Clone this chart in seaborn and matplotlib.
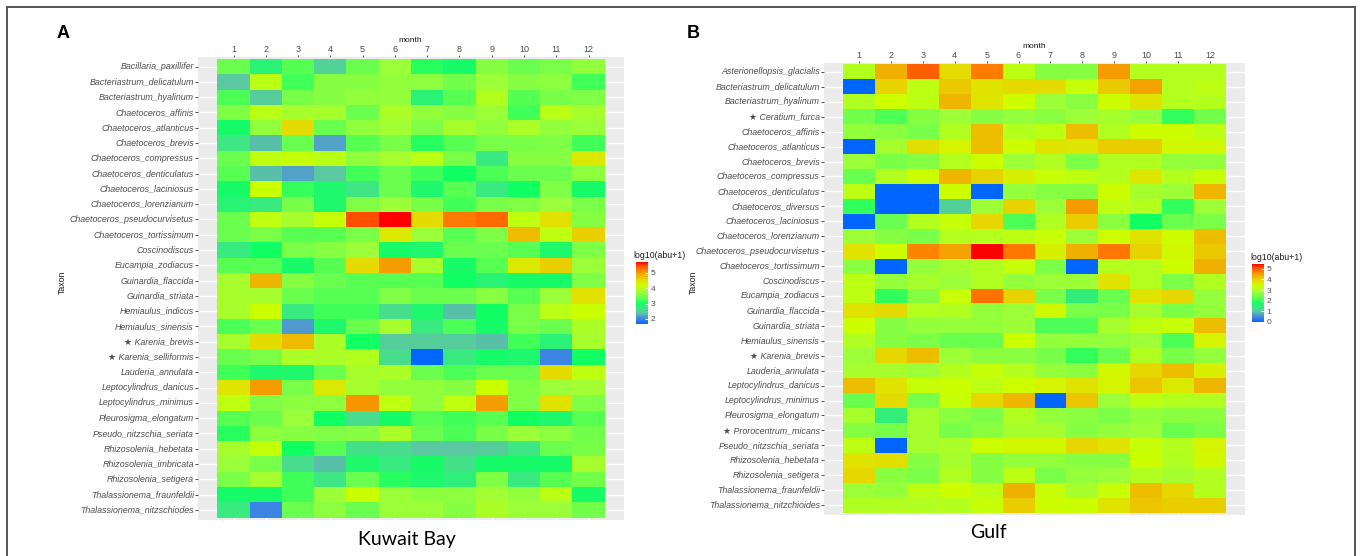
import numpy as np
import pandas as pd
import matplotlib
matplotlib.use("Agg")
import matplotlib.pyplot as plt
import seaborn as sns
from matplotlib.colors import LinearSegmentedColormap
from matplotlib.lines import Line2D

months = [str(m) for m in range(1, 13)]

kuwait_taxa = [
    "Bacillaria_paxillifer", "Bacteriastrum_delicatulum", "Bacteriastrum_hyalinum",
    "Chaetoceros_affinis", "Chaetoceros_atlanticus", "Chaetoceros_brevis",
    "Chaetoceros_compressus", "Chaetoceros_denticulatus", "Chaetoceros_laciniosus",
    "Chaetoceros_lorenzianum", "Chaetoceros_pseudocurvisetus", "Chaetoceros_tortissimum",
    "Coscinodiscus", "Eucampia_zodiacus", "Guinardia_flaccida", "Guinardia_striata",
    "Hemiaulus_indicus", "Hemiaulus_sinensis", "★ Karenia_brevis", "★ Karenia_selliformis",
    "Lauderia_annulata", "Leptocylindrus_danicus", "Leptocylindrus_minimus",
    "Pleurosigma_elongatum", "Pseudo_nitzschia_seriata", "Rhizosolenia_hebetata",
    "Rhizosolenia_imbricata", "Rhizosolenia_setigera", "Thalassionema_fraunfeldii",
    "Thalassionema_nitzschiodes",
]

# log10(abu+1), Kuwait Bay, rows = taxa, cols = months 1..12
kuwait_values = [
    [3.40, 2.85, 3.30, 2.50, 3.40, 3.75, 3.10, 2.95, 3.60, 3.40, 3.50, 3.70],
    [2.40, 4.00, 3.20, 3.60, 3.60, 3.70, 3.65, 3.45, 3.75, 3.60, 3.65, 3.20],
    [3.25, 2.45, 3.50, 3.60, 3.70, 3.70, 2.85, 3.30, 3.95, 3.30, 3.50, 3.55],
    [3.55, 4.00, 3.85, 3.85, 3.40, 3.90, 3.70, 3.60, 3.75, 3.20, 4.00, 3.85],
    [2.95, 3.70, 4.55, 3.40, 3.70, 3.80, 3.55, 3.85, 3.70, 3.90, 3.70, 3.75],
    [2.70, 2.35, 3.40, 2.20, 3.30, 3.50, 3.10, 3.30, 3.50, 3.50, 3.55, 3.20],
    [3.40, 4.05, 4.10, 4.00, 3.70, 3.85, 4.00, 3.50, 2.75, 3.60, 3.60, 4.40],
    [3.30, 2.35, 2.20, 2.40, 3.20, 3.40, 3.20, 3.00, 3.25, 3.40, 3.40, 3.65],
    [2.95, 4.15, 3.15, 2.90, 2.70, 3.40, 2.90, 3.30, 2.75, 3.00, 3.55, 2.95],
    [2.85, 2.75, 3.50, 2.90, 3.55, 3.75, 3.50, 3.20, 3.50, 3.55, 3.75, 3.50],
    [3.40, 4.05, 3.85, 4.10, 5.45, 5.70, 4.55, 5.20, 5.30, 4.05, 4.50, 3.60],
    [3.40, 3.50, 3.30, 3.30, 3.50, 4.40, 3.75, 3.30, 3.55, 4.80, 4.05, 4.65],
    [2.75, 3.00, 3.50, 3.60, 3.75, 2.95, 2.90, 3.40, 3.40, 3.30, 2.90, 3.55],
    [3.30, 3.30, 2.95, 3.30, 4.55, 5.00, 3.85, 2.95, 3.30, 4.40, 4.65, 3.75],
    [3.85, 4.85, 3.60, 3.40, 3.30, 3.30, 3.30, 3.00, 2.85, 2.95, 2.95, 3.55],
    [3.85, 3.85, 3.40, 3.30, 3.30, 3.55, 3.40, 3.40, 3.60, 3.30, 3.75, 4.50],
    [3.85, 4.15, 2.75, 3.20, 3.20, 2.60, 2.90, 2.35, 3.00, 3.50, 4.00, 4.15],
    [3.25, 3.40, 2.15, 2.90, 3.40, 3.85, 2.75, 3.25, 2.95, 3.50, 3.40, 3.90],
    [3.85, 4.55, 4.80, 3.90, 3.00, 2.45, 2.45, 2.45, 2.35, 3.20, 2.85, 3.85],
    [3.40, 3.50, 3.90, 3.90, 3.95, 2.60, 1.70, 2.75, 2.95, 2.90, 2.00, 3.00],
    [3.20, 2.90, 2.90, 3.40, 3.85, 3.90, 3.40, 3.25, 3.40, 3.40, 4.55, 4.05],
    [4.45, 5.00, 3.50, 4.40, 3.85, 3.70, 3.70, 3.60, 4.15, 3.55, 3.75, 3.80],
    [4.05, 3.55, 3.65, 3.65, 5.05, 4.05, 3.70, 4.05, 5.00, 3.55, 4.50, 3.55],
    [3.30, 3.40, 3.75, 3.00, 2.60, 2.95, 3.30, 3.20, 3.30, 3.00, 2.90, 3.30],
    [3.10, 3.65, 3.60, 3.55, 3.60, 3.90, 3.40, 3.25, 3.50, 3.75, 3.65, 3.45],
    [3.85, 4.10, 3.00, 3.30, 2.65, 2.60, 2.40, 2.40, 2.45, 2.70, 3.40, 3.50],
    [3.75, 3.50, 2.60, 2.35, 2.90, 2.75, 2.95, 2.65, 2.95, 2.95, 2.95, 3.85],
    [3.50, 3.85, 3.20, 2.70, 3.40, 3.10, 2.90, 2.80, 3.55, 2.75, 3.30, 3.45],
    [2.95, 2.95, 3.20, 3.75, 4.15, 3.75, 3.65, 3.65, 3.80, 3.70, 4.00, 2.95],
    [2.75, 2.00, 3.40, 3.65, 3.40, 3.75, 3.75, 3.60, 3.90, 3.75, 3.75, 3.45],
]

gulf_taxa = [
    "Asterionellopsis_glacialis", "Bacteriastrum_delicatulum", "Bacteriastrum_hyalinum",
    "★ Ceratium_furca", "Chaetoceros_affinis", "Chaetoceros_atlanticus",
    "Chaetoceros_brevis", "Chaetoceros_compressus", "Chaetoceros_denticulatus",
    "Chaetoceros_diversus", "Chaetoceros_laciniosus", "Chaetoceros_lorenzianum",
    "Chaetoceros_pseudocurvisetus", "Chaetoceros_tortissimum", "Coscinodiscus",
    "Eucampia_zodiacus", "Guinardia_flaccida", "Guinardia_striata", "Hemiaulus_sinensis",
    "★ Karenia_brevis", "Lauderia_annulata", "Leptocylindrus_danicus",
    "Leptocylindrus_minimus", "Pleurosigma_elongatum", "★ Prorocentrum_micans",
    "Pseudo_nitzschia_seriata", "Rhizosolenia_hebetata", "Rhizosolenia_setigera",
    "Thalassionema_fraunfeldii", "Thalassionema_nitzchioides",
]

# log10(abu+1), Gulf
gulf_values = [
    [3.10, 4.35, 5.00, 3.90, 4.75, 3.20, 2.60, 2.60, 4.50, 3.10, 3.10, 3.10],
    [0.00, 4.00, 3.20, 4.10, 3.80, 3.90, 3.90, 3.30, 4.10, 4.45, 3.10, 3.20],
    [3.05, 3.40, 3.20, 4.30, 3.75, 3.40, 2.85, 2.65, 3.40, 3.80, 3.10, 3.10],
    [2.40, 2.15, 2.60, 2.85, 2.60, 2.75, 2.65, 2.85, 2.95, 2.75, 2.00, 2.40],
    [2.75, 2.65, 2.45, 3.05, 4.20, 3.10, 3.20, 4.20, 3.05, 3.40, 3.40, 3.20],
    [0.00, 2.95, 3.85, 3.55, 4.20, 3.40, 3.80, 3.75, 4.05, 4.05, 3.45, 3.45],
    [2.85, 2.50, 2.60, 3.10, 3.40, 2.85, 3.05, 2.50, 3.05, 3.05, 2.75, 2.75],
    [2.30, 3.05, 3.40, 4.30, 4.00, 3.60, 3.30, 3.20, 3.10, 3.75, 3.10, 3.30],
    [3.20, 0.00, 0.00, 3.40, 0.00, 2.75, 2.60, 2.60, 3.40, 2.95, 2.85, 4.30],
    [2.00, 0.00, 0.00, 1.10, 2.85, 4.00, 2.85, 4.50, 3.20, 3.10, 2.00, 2.85],
    [0.00, 2.30, 3.10, 3.30, 3.95, 2.15, 3.05, 4.05, 2.65, 1.80, 2.30, 2.50],
    [2.85, 2.60, 2.45, 3.10, 3.10, 3.20, 3.30, 2.85, 3.40, 3.80, 3.40, 4.20],
    [3.80, 3.40, 4.70, 4.45, 5.45, 4.80, 3.60, 4.35, 4.80, 4.00, 3.45, 4.10],
    [2.65, 0.00, 2.75, 2.95, 3.05, 3.30, 2.50, 0.00, 3.10, 3.10, 3.40, 4.35],
    [3.20, 2.75, 2.95, 2.85, 3.05, 2.75, 2.85, 2.85, 3.80, 3.10, 2.50, 3.05],
    [3.20, 2.00, 2.60, 3.30, 4.85, 4.00, 2.45, 1.50, 2.30, 3.80, 3.95, 2.75],
    [3.80, 3.90, 3.10, 3.05, 2.75, 2.85, 3.45, 2.45, 2.45, 2.95, 2.50, 2.75],
    [3.40, 2.60, 2.75, 2.75, 2.75, 2.85, 2.15, 2.15, 2.95, 3.20, 3.30, 4.20],
    [3.05, 2.60, 2.50, 2.30, 2.30, 3.40, 2.75, 2.75, 2.75, 2.85, 2.15, 3.55],
    [2.85, 3.95, 4.20, 2.85, 2.65, 2.65, 2.45, 2.00, 2.30, 3.05, 2.45, 2.75],
    [2.95, 2.95, 2.85, 3.10, 3.30, 3.10, 2.75, 2.65, 3.45, 3.95, 4.20, 3.60],
    [4.20, 3.80, 3.30, 3.35, 3.20, 3.40, 3.55, 3.80, 3.55, 4.15, 3.70, 4.30],
    [2.30, 3.90, 2.45, 3.30, 3.95, 4.30, 0.00, 4.15, 2.85, 3.20, 3.10, 3.05],
    [2.95, 1.50, 2.95, 2.65, 2.50, 3.05, 2.75, 2.65, 2.50, 2.75, 2.65, 2.65],
    [2.60, 2.45, 2.95, 2.45, 2.65, 2.95, 2.95, 2.60, 2.75, 2.85, 2.30, 2.50],
    [3.20, 0.00, 2.95, 3.00, 3.40, 3.45, 3.45, 3.95, 3.80, 3.30, 3.10, 3.55],
    [3.80, 3.85, 2.60, 2.95, 2.60, 2.75, 2.75, 2.60, 2.60, 3.40, 3.05, 3.45],
    [3.95, 2.65, 2.50, 3.05, 2.60, 3.20, 2.45, 2.75, 2.85, 3.05, 2.95, 3.05],
    [2.85, 2.75, 3.20, 3.40, 3.20, 4.35, 3.30, 2.95, 3.30, 4.20, 3.95, 3.10],
    [3.05, 3.05, 3.05, 3.10, 3.30, 4.05, 3.40, 3.35, 3.80, 4.15, 4.05, 4.05],
]

kuwait_ticks = [2, 3, 4, 5]
gulf_ticks = [0, 1, 2, 3, 4, 5]

plt.rcParams['font.family'] = ['Liberation Sans', 'DejaVu Sans']

# blue -> teal -> green -> yellow -> orange -> red, like the ggplot gradient
cmap = LinearSegmentedColormap.from_list("abu", [
    (0.00, "#0066FF"), (0.10, "#4C8CDC"), (0.18, "#5AC8A0"), (0.26, "#3CE882"),
    (0.33, "#10FF62"), (0.42, "#66FF50"), (0.52, "#9CFF38"), (0.62, "#CCFF00"),
    (0.72, "#E6DA00"), (0.80, "#F0B000"), (0.88, "#FF7800"), (0.94, "#FF5000"),
    (1.00, "#FF0000"),
])

W, H = 1362, 556
fig = plt.figure(figsize=(W / 100, H / 100), dpi=100)


def box(x0, y0, x1, y1):
    # pixel box (top-left origin) -> figure fraction rect
    return [x0 / W, 1 - y1 / H, (x1 - x0) / W, (y1 - y0) / H]


def panel(values, taxa, ax_box, cax_box, vmin, vmax, ticks, title_xy):
    df = pd.DataFrame(values, index=taxa, columns=months)
    ax = fig.add_axes(box(*ax_box))
    cax = fig.add_axes(box(*cax_box))
    ax.set_facecolor("#EBEBEB")
    n = len(taxa)
    ax.hlines(np.arange(n) + 0.5, -0.6, 12.6, color="white", lw=1.0, zorder=0.5)
    ax.vlines(np.arange(12) + 0.5, -1, n + 1, color="white", lw=1.0, zorder=0.5)
    sns.heatmap(df, ax=ax, cmap=cmap, vmin=vmin, vmax=vmax, cbar_ax=cax,
                cbar_kws={"ticks": ticks})
    ax.set_xlim(-0.6, 12.6)
    ax.set_ylim(n + 0.13, -0.13)
    ax.set_xlabel("")
    ax.set_ylabel("")
    ax.xaxis.tick_top()
    ax.set_xticks(np.arange(12) + 0.5)
    ax.set_xticklabels(months, rotation=0)
    ax.set_yticks(np.arange(n) + 0.5)
    ax.set_yticklabels(taxa, rotation=0, style="italic")
    ax.tick_params(axis="y", length=2, width=0.6, color="#333333",
                   labelcolor="#4D4D4D", labelsize=6.4, pad=1)
    ax.tick_params(axis="x", length=1.5, width=0.6, color="#333333",
                   labelcolor="#4D4D4D", labelsize=6.5, pad=0.5)
    for s in ax.spines.values():
        s.set_visible(False)
    for s in cax.spines.values():
        s.set_visible(False)
    cax.tick_params(length=2.5, width=0.8, color="white", direction="in",
                    labelsize=6, labelcolor="#4D4D4D", pad=2)
    fig.text(title_xy[0] / W, 1 - title_xy[1] / H, "log10(abu+1)", fontsize=6.3,
             color="#1A1A1A", ha="left", va="center")
    return ax


panel(kuwait_values, kuwait_taxa, (198, 57, 624, 519.5), (636, 262, 648, 324),
      1.67, 5.7, kuwait_ticks, (633, 256))
panel(gulf_values, gulf_taxa, (824, 62.5, 1245, 514.5), (1252, 264, 1264, 322),
      0.0, 5.45, gulf_ticks, (1250, 257))

# axis titles and panel captions
fig.text(410 / W, 1 - 41 / H, "month", fontsize=6, ha="center", va="center", color="#1A1A1A")
fig.text(1034 / W, 1 - 46 / H, "month", fontsize=6, ha="center", va="center", color="#1A1A1A")
fig.text(62 / W, 1 - 282 / H, "Taxon", fontsize=6.3, rotation=90, ha="center", va="center", color="#1A1A1A")
fig.text(693 / W, 1 - 282 / H, "Taxon", fontsize=6.3, rotation=90, ha="center", va="center", color="#1A1A1A")
fig.text(63 / W, 1 - 34 / H, "A", fontsize=13, fontweight="bold", ha="center", va="center")
fig.text(693 / W, 1 - 33 / H, "B", fontsize=13, fontweight="bold", ha="center", va="center")
fig.text(407 / W, 1 - 540 / H, "Kuwait Bay", fontsize=14, ha="center", va="center", family="Lato")
fig.text(988 / W, 1 - 533 / H, "Gulf", fontsize=14, ha="center", va="center", family="Lato")

# thin frame around the figure (top, left, right)
for xs, ys in [((7, 1355), (7, 7)), ((7, 7), (7, 556)), ((1355, 1355), (7, 556))]:
    fig.add_artist(Line2D([x / W for x in xs], [1 - y / H for y in ys],
                          color="#555555", lw=1.4))

fig.savefig("out.png", dpi=100)
